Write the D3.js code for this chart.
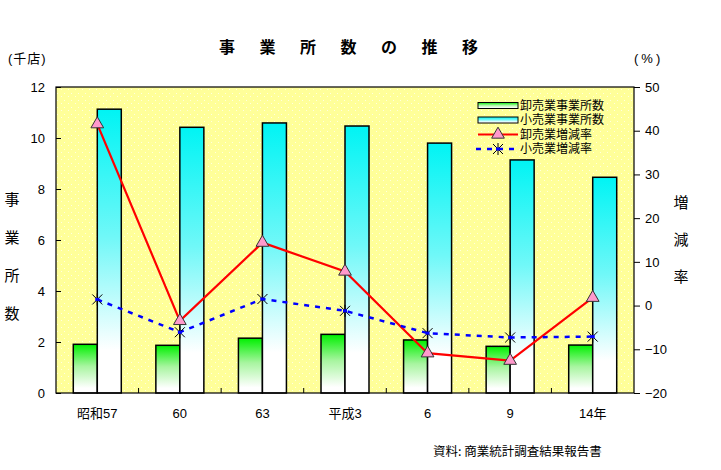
<!DOCTYPE html>
<html><head><meta charset="utf-8">
<script src="https://cdn.jsdelivr.net/npm/d3@7"></script>
<style>
body{margin:0;background:#fff;}
text{font-family:"Liberation Sans","Noto Sans CJK JP",sans-serif;}
.jp{font-family:"Noto Sans CJK JP",sans-serif;}
</style></head>
<body><svg id="c" width="721" height="470"></svg>
<script>
const categories = ["昭和57","60","63","平成3","6","9","14年"];
const wholesaleCount = [1.91, 1.87, 2.15, 2.30, 2.08, 1.83, 1.88];
const retailCount = [11.13, 10.42, 10.59, 10.47, 9.80, 9.14, 8.46];
const wholesaleRate = [41.5, -3.5, 14.4, 7.8, -10.9, -12.6, 1.8];
const retailRate = [1.4, -6.1, 1.5, -1.2, -6.3, -7.3, -7.1];
const leftTicks = [0,2,4,6,8,10,12];
const rightTicks = [-20,-10,0,10,20,30,40,50];
const titleChars = ["事","業","所","数","の","推","移"];
const leftTitle = ["事","業","所","数"];
const rightTitle = ["増","減","率"];
const legendLabels = ["卸売業事業所数","小売業事業所数","卸売業増減率","小売業増減率"];

const svg = d3.select("#c");
const L=56,R=634,T=87,B=393;
const x = d3.scaleBand().domain(categories).range([L,R]).padding(0);
const yL = d3.scaleLinear().domain([0,12]).range([B,T]);
const yR = d3.scaleLinear().domain([-20,50]).range([B,T]);
const bw = 24;

const defs = svg.append("defs");
const g1 = defs.append("linearGradient").attr("id","gG").attr("x1",0).attr("y1",0).attr("x2",0).attr("y2",1);
g1.append("stop").attr("offset","0%").attr("stop-color","#00f000");
g1.append("stop").attr("offset","45%").attr("stop-color","#a8f5a0");
g1.append("stop").attr("offset","90%").attr("stop-color","#ffffff");
const g2 = defs.append("linearGradient").attr("id","gC").attr("x1",0).attr("y1",0).attr("x2",0).attr("y2",1);
g2.append("stop").attr("offset","0%").attr("stop-color","#00f4f4");
g2.append("stop").attr("offset","45%").attr("stop-color","#70f8f8");
g2.append("stop").attr("offset","85%").attr("stop-color","#ffffff");
g2.append("stop").attr("offset","100%").attr("stop-color","#ffffff");
const pat = defs.append("pattern").attr("id","dots").attr("width",7).attr("height",7).attr("patternUnits","userSpaceOnUse");
pat.append("rect").attr("width",7).attr("height",7).attr("fill","#ffff99");
pat.append("rect").attr("x",1).attr("y",2).attr("width",1).attr("height",1).attr("fill","#ffffe0");
pat.append("rect").attr("x",5).attr("y",5).attr("width",1).attr("height",1).attr("fill","#ffffe0");

// plot background
svg.append("rect").attr("x",L).attr("y",T).attr("width",R-L).attr("height",B-T).attr("fill","url(#dots)");

// bars
svg.selectAll(".bg").data(categories).enter().append("rect")
  .attr("x",d=>x(d)+x.bandwidth()/2-bw).attr("width",bw)
  .attr("y",(d,i)=>yL(wholesaleCount[i])).attr("height",(d,i)=>B-yL(wholesaleCount[i]))
  .attr("fill","url(#gG)").attr("stroke","#000").attr("stroke-width",1.5);
svg.selectAll(".bc").data(categories).enter().append("rect")
  .attr("x",d=>x(d)+x.bandwidth()/2).attr("width",bw)
  .attr("y",(d,i)=>yL(retailCount[i])).attr("height",(d,i)=>B-yL(retailCount[i]))
  .attr("fill","url(#gC)").attr("stroke","#000").attr("stroke-width",1.5);

// plot border
svg.append("rect").attr("x",L).attr("y",T).attr("width",R-L).attr("height",B-T).attr("fill","none").attr("stroke","#000").attr("stroke-width",1.2);

// axes
const axL = d3.axisLeft(yL).tickValues(leftTicks).tickSize(-5).tickPadding(11);
const gL = svg.append("g").attr("transform",`translate(${L},0)`).call(axL);
const axR = d3.axisRight(yR).tickValues(rightTicks).tickSize(6).tickPadding(5).tickFormat(d=>d<0?"\u2212"+Math.abs(d):d);
const gR = svg.append("g").attr("transform",`translate(${R},0)`).call(axR);
const xb = d3.scaleLinear().domain([0,7]).range([L,R]);
const axB = d3.axisBottom(x).tickSize(0).tickPadding(16);
const gB = svg.append("g").attr("transform",`translate(0,${B})`).call(axB);
[gL,gR,gB].forEach(g=>{g.select(".domain").remove();g.selectAll("text").attr("font-size",13).attr("fill","#000").style("font-family","'Liberation Sans','Noto Sans CJK JP',sans-serif");});
gL.selectAll("line").attr("stroke","#000");
gR.selectAll("line").attr("stroke","#000");
// category boundary ticks
svg.selectAll(".xt").data(d3.range(1,7)).enter().append("line")
  .attr("x1",d=>xb(d)).attr("x2",d=>xb(d)).attr("y1",B).attr("y2",B-5).attr("stroke","#000");

// lines
const cx = d=>x(d)+x.bandwidth()/2;
const lineW = d3.line().x((d,i)=>cx(categories[i])).y(d=>yR(d));
svg.append("path").attr("d",lineW(wholesaleRate)).attr("fill","none").attr("stroke","#ff0000").attr("stroke-width",2.2);
svg.append("path").attr("d",lineW(retailRate)).attr("fill","none").attr("stroke","#0000ff").attr("stroke-width",2.5).attr("stroke-dasharray","5,6");

// markers
const tri = d3.symbol().type(d3.symbolTriangle).size(70);
svg.selectAll(".mt").data(wholesaleRate).enter().append("path")
  .attr("d",tri).attr("transform",(d,i)=>`translate(${cx(categories[i])},${yR(d)})`)
  .attr("fill","#ff99cc").attr("stroke","#333").attr("stroke-width",1);
function star(g,px,py){
  g.append("path").attr("d",`M${px-5},${py-5}L${px+5},${py+5}M${px-5},${py+5}L${px+5},${py-5}M${px},${py-6}L${px},${py+6}`)
   .attr("stroke","#000").attr("stroke-width",1).attr("fill","none");
  g.append("rect").attr("x",px-2).attr("y",py-1.5).attr("width",4).attr("height",3).attr("fill","#0000ff");
}
retailRate.forEach((d,i)=>star(svg,cx(categories[i]),yR(d)));

// legend
const lg = svg.append("g");
const ly=[105.5,120,134.5,149];
lg.append("rect").attr("x",478).attr("y",ly[0]-3).attr("width",40).attr("height",6).attr("fill","url(#gG)").attr("stroke","#000");
lg.append("rect").attr("x",478).attr("y",ly[1]-3).attr("width",40).attr("height",6).attr("fill","url(#gC)").attr("stroke","#000");
lg.append("line").attr("x1",478).attr("x2",518).attr("y1",ly[2]).attr("y2",ly[2]).attr("stroke","#ff0000").attr("stroke-width",2.2);
lg.append("path").attr("d",tri).attr("transform",`translate(498,${ly[2]})`).attr("fill","#ff99cc").attr("stroke","#333");
lg.append("line").attr("x1",476).attr("x2",520).attr("y1",ly[3]).attr("y2",ly[3]).attr("stroke","#0000ff").attr("stroke-width",2.5).attr("stroke-dasharray","5,6");
star(lg,498,ly[3]);
lg.selectAll(".lt").data(legendLabels).enter().append("text")
  .attr("x",520).attr("y",(d,i)=>ly[i]).attr("dy","0.36em").attr("font-size",12).text(d=>d);

// titles
svg.selectAll(".tt").data(titleChars).enter().append("text").attr("class","jp")
  .attr("x",(d,i)=>227+i*40.5).attr("y",47).attr("dy","0.36em").attr("text-anchor","middle")
  .attr("font-size",16).attr("font-weight","bold").text(d=>d);
svg.append("text").attr("x",8).attr("y",58).attr("dy","0.36em").attr("font-size",13).attr("letter-spacing",1).text("(千店)");
svg.append("text").attr("x",634).attr("y",58).attr("dy","0.36em").attr("font-size",13).attr("letter-spacing",3).text("(%)");
svg.selectAll(".lt2").data(leftTitle).enter().append("text").attr("class","jp")
  .attr("x",12).attr("y",(d,i)=>200+i*38).attr("dy","0.36em").attr("text-anchor","middle").attr("font-size",15).text(d=>d);
svg.selectAll(".rt2").data(rightTitle).enter().append("text").attr("class","jp")
  .attr("x",681).attr("y",(d,i)=>203+i*37).attr("dy","0.36em").attr("text-anchor","middle").attr("font-size",15).text(d=>d);
svg.append("text").attr("class","jp").attr("x",433).attr("y",451).attr("dy","0.36em").attr("font-size",12.5).text("資料: 商業統計調査結果報告書");
</script></body></html>
